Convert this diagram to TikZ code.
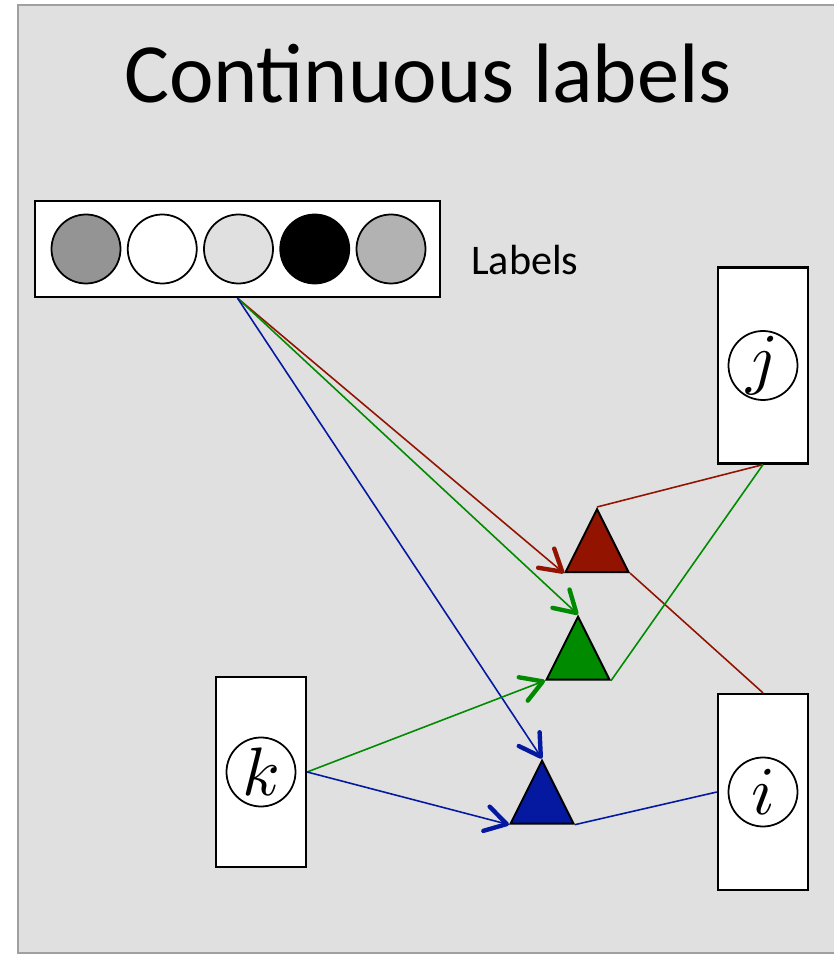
\documentclass[tikz,border=0pt]{standalone}
\usepackage{fontspec}
\setmainfont{Carlito}
\usetikzlibrary{arrows.meta,shapes.geometric}
\definecolor{panel}{RGB}{224,224,224}
\definecolor{rimgray}{RGB}{160,160,160}
\definecolor{dred}{RGB}{146,20,0}
\definecolor{dgreen}{RGB}{0,138,0}
\definecolor{dblue}{RGB}{4,25,160}
\newcommand{\unitvar}[1]{\scalebox{3.9}{$#1$}}
\begin{document}
\begin{tikzpicture}[
    box/.style={draw,fill=white,line width=1.3pt,minimum width=1.8cm,minimum height=3.92cm,inner sep=0pt},
    unit/.style={draw,circle,line width=1pt,minimum size=1.38cm,inner sep=0pt},
    tri/.style={draw,isosceles triangle,isosceles triangle apex angle=53.13,shape border rotate=90,
        minimum width=1.26cm,minimum height=1.26cm,inner sep=0pt,line width=1.1pt,anchor=apex},
    edge/.style={line width=0.9pt},
    >={Straight Barb[length=4.2mm,width=5mm,line width=2.5pt,round]}]
    \useasboundingbox (0,0) rectangle (16.68,19.1);
    \draw[rimgray,fill=panel,line width=1pt] (0.36,0.04) rectangle (17.2,19.0);
    \node[anchor=base,font=\fontsize{48}{58}\selectfont] (title) at (8.56,17.04) {Continuous labels};
    % label vector
    \node[box,minimum width=8.1cm,minimum height=1.92cm] (labels) at (4.75,14.12) {};
    \foreach \c [count=\n from 0] in {black!42,white,panel,black,black!30}
        \node[unit,fill=\c] (l\n) at ({1.72+1.525*\n},14.12) {};
    \node[anchor=base west,font=\fontsize{24}{28}\selectfont] (lbltext) at (9.3,13.6) {Labels};
    % units
    \node[box] (bj) at (15.26,11.79) {};
    \node[unit] (j) at (bj) {\unitvar{j}};
    \node[box,minimum height=3.8cm] (bk) at (5.22,3.66) {};
    \node[unit] (k) at (bk) {\unitvar{k}};
    \node[box] (bi) at (15.26,3.26) {};
    \node[unit] (i) at (bi) {\unitvar{i}};
    % gates
    \node[tri,fill=dred] (tr) at (11.94,8.96) {};
    \node[tri,fill=dgreen] (tg) at (11.56,6.81) {};
    \node[tri,fill=dblue] (tb) at (10.84,3.93) {};
    \draw[dred,edge,->] (labels.south) -- (tr.left corner);
    \draw[dgreen,edge,->] (labels.south) -- (tg.apex);
    \draw[dblue,edge,->] (labels.south) -- (tb.apex);
    \draw[dred,edge] (tr.apex) -- (bj.south);
    \draw[dred,edge] (tr.right corner) -- (bi.north);
    \draw[dgreen,edge] (tg.right corner) -- (bj.south);
    \draw[dgreen,edge,->] (bk.east) -- (tg.left corner);
    \draw[dblue,edge,->] (bk.east) -- (tb.left corner);
    \draw[dblue,edge] (tb.right corner) -- (bi.west);
\end{tikzpicture}
\end{document}
